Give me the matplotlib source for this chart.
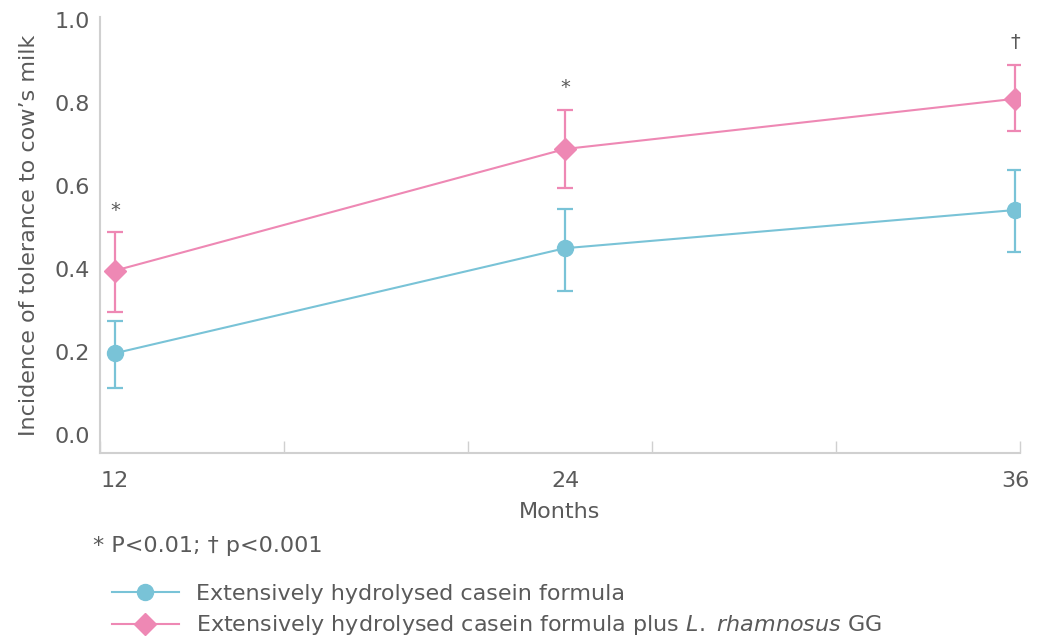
import matplotlib
matplotlib.use("Agg")
import matplotlib.pyplot as plt
from matplotlib.lines import Line2D
import numpy as np

# data
months = [12, 24, 36]
ehcf = [0.197, 0.450, 0.542]
ehcf_lo = [0.113, 0.347, 0.441]
ehcf_hi = [0.275, 0.545, 0.639]
ehcf_lgg = [0.396, 0.689, 0.810]
ehcf_lgg_lo = [0.296, 0.595, 0.733]
ehcf_lgg_hi = [0.489, 0.783, 0.892]
signif = ["*", "*", "\u2020"]
labels = ["Extensively hydrolysed casein formula",
          "Extensively hydrolysed casein formula plus $\\it{L.}$ $\\it{rhamnosus}$ GG"]

blue = "#79C3D7"
pink = "#EE88B4"
grey = "#5a5a5a"
axis_grey = "#d0d0d0"

plt.rcParams['font.family'] = ['DejaVu Sans']
plt.rcParams['mathtext.fontset'] = 'custom'
plt.rcParams['mathtext.it'] = 'DejaVu Sans:italic'
plt.rcParams['mathtext.rm'] = 'DejaVu Sans'
fs = 16

fig = plt.figure(figsize=(10.45, 6.38), dpi=100)
ax = fig.add_axes([100 / 1045, 1 - 453 / 638, 920 / 1045, 436 / 638])

x = np.array(months)
y1 = np.array(ehcf)
y2 = np.array(ehcf_lgg)
err1 = [y1 - np.array(ehcf_lo), np.array(ehcf_hi) - y1]
err2 = [y2 - np.array(ehcf_lgg_lo), np.array(ehcf_lgg_hi) - y2]

ax.errorbar(x, y1, yerr=err1, color=blue, marker="o", ms=11.5, lw=1.5,
            elinewidth=1.6, capsize=5.5, capthick=1.6)
ax.errorbar(x, y2, yerr=err2, color=pink, marker="D", ms=11, lw=1.5,
            elinewidth=1.6, capsize=5.5, capthick=1.6)

for xi, top, s in zip(months, ehcf_lgg_hi, signif):
    ax.annotate(s, (xi, top), xytext=(0, 9), textcoords="offset points",
                ha="center", va="bottom", fontsize=fs - 2, color=grey)

xmin, xmax = 11.6, 36.13
ax.set_xlim(xmin, xmax)
ax.set_ylim(-0.0434, 1.007)
ax.set_xticks(months)
ax.set_xticks(np.linspace(xmin, xmax, 6), minor=True)
ax.tick_params(axis="x", which="major", length=0, pad=13, labelsize=fs, labelcolor=grey)
ax.tick_params(axis="x", which="minor", length=9, width=1, direction="in", color=axis_grey)
ax.set_yticks([0, 0.2, 0.4, 0.6, 0.8, 1.0])
ax.set_yticklabels(["0.0", "0.2", "0.4", "0.6", "0.8", "1.0"])
ax.tick_params(axis="y", length=0, pad=7, labelsize=fs, labelcolor=grey)

for side in ["top", "right"]:
    ax.spines[side].set_visible(False)
for side in ["left", "bottom"]:
    ax.spines[side].set_color(axis_grey)
    ax.spines[side].set_linewidth(1.5)

ax.set_xlabel("Months", fontsize=fs, color=grey, labelpad=8)
ax.set_ylabel("Incidence of tolerance to cow\u2019s milk", fontsize=fs, color=grey, labelpad=11)

fig.text(93 / 1045, 1 - 546 / 638, "* P<0.01; \u2020 p<0.001", fontsize=fs, color=grey,
         ha="left", va="center")

handles = [Line2D([], [], color=blue, marker="o", ms=11.5, lw=1.5),
           Line2D([], [], color=pink, marker="D", ms=11, lw=1.5)]
leg = fig.legend(handles=handles, labels=labels, loc="upper left",
                 bbox_to_anchor=(112 / 1045, 1 - 584 / 638),
                 frameon=False, fontsize=fs, handlelength=3.0, handletextpad=0.8,
                 labelspacing=0.42, borderpad=0, borderaxespad=0)
for t in leg.get_texts():
    t.set_color(grey)

fig.savefig("out.png", dpi=100)
